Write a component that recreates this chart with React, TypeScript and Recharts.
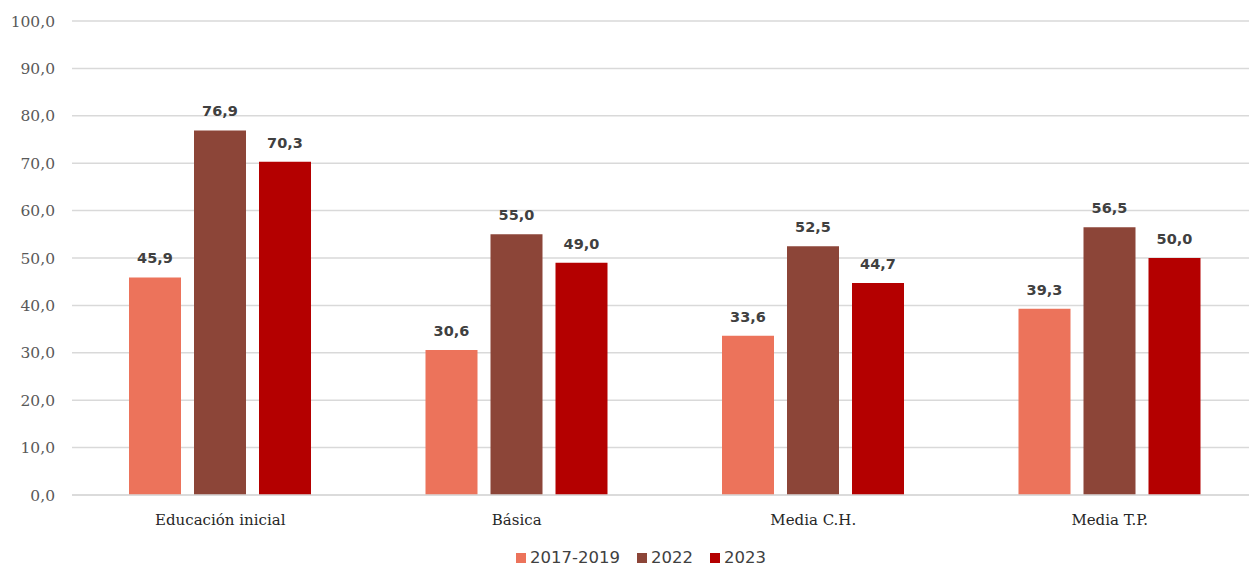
import React from 'react';
import { BarChart, Bar, XAxis, YAxis, CartesianGrid, Legend, LabelList } from 'recharts';

const CATEGORIES = ['Educación inicial', 'Básica', 'Media C.H.', 'Media T.P.'];
const SERIES_NAMES = ['2017-2019', '2022', '2023'];
const VALUES_2017_2019 = [45.9, 30.6, 33.6, 39.3];
const VALUES_2022 = [76.9, 55.0, 52.5, 56.5];
const VALUES_2023 = [70.3, 49.0, 44.7, 50.0];
const Y_TICKS = [0, 10, 20, 30, 40, 50, 60, 70, 80, 90, 100];

const COLORS = ['#ec735b', '#8c4538', '#b40000'];

const data = CATEGORIES.map((cat, i) => ({
  cat,
  s0: VALUES_2017_2019[i],
  s1: VALUES_2022[i],
  s2: VALUES_2023[i],
}));

const fmt = (v: number) => v.toFixed(1).replace('.', ',');

const LegendContent = () => (
  <div style={{ display: 'flex', justifyContent: 'center', alignItems: 'center', fontFamily: 'DejaVu Sans', fontSize: 16.5, color: '#404040' }}>
    {SERIES_NAMES.map((n, i) => (
      <div key={n} style={{ display: 'flex', alignItems: 'center', marginRight: i < 2 ? 17 : 0 }}>
        <span style={{ width: 10, height: 10, background: COLORS[i], display: 'inline-block', marginRight: 4 }}></span>
        <span>{n}</span>
      </div>
    ))}
  </div>
);

export default function App() {
  return (
    <div style={{ position: 'absolute', left: 0, top: 0, width: 1249, height: 566, overflow: 'hidden', background: '#fff' }}>
      <BarChart
        width={1262}
        height={566}
        data={data}
        margin={{ top: 21, right: 4, bottom: 0, left: 0 }}
        barSize={52}
        barGap={13}
      >
        <CartesianGrid vertical={false} stroke="#d9d9d9" strokeWidth={1.5} />
        <XAxis
          dataKey="cat"
          height={42}
          tickLine={false}
          axisLine={{ stroke: '#d9d9d9', strokeWidth: 1.5 }}
          tick={{ fontFamily: 'DejaVu Serif', fontSize: 15, fill: '#262626' }}
          tickMargin={13}
          interval={0}
        />
        <YAxis
          width={72}
          domain={[0, 100]}
          ticks={Y_TICKS}
          tickFormatter={fmt}
          tickLine={false}
          axisLine={false}
          tickSize={0}
          tickMargin={17}
          tick={{ fontFamily: 'DejaVu Serif', fontSize: 15.5, fill: '#595959' }}
        />
        <Legend
          verticalAlign="bottom"
          height={29}
          content={<LegendContent />}
          wrapperStyle={{ left: 0, width: 1282, top: 548, bottom: 'auto' }}
        />
        {['s0', 's1', 's2'].map((k, i) => (
          <Bar key={k} dataKey={k} name={SERIES_NAMES[i]} fill={COLORS[i]} isAnimationActive={false}>
            <LabelList
              dataKey={k}
              position="top"
              offset={14}
              formatter={(v: any) => fmt(Number(v))}
              style={{ fontFamily: 'DejaVu Sans', fontWeight: 'bold', fontSize: 14.5, fill: '#404040' }}
            />
          </Bar>
        ))}
      </BarChart>
    </div>
  );
}
